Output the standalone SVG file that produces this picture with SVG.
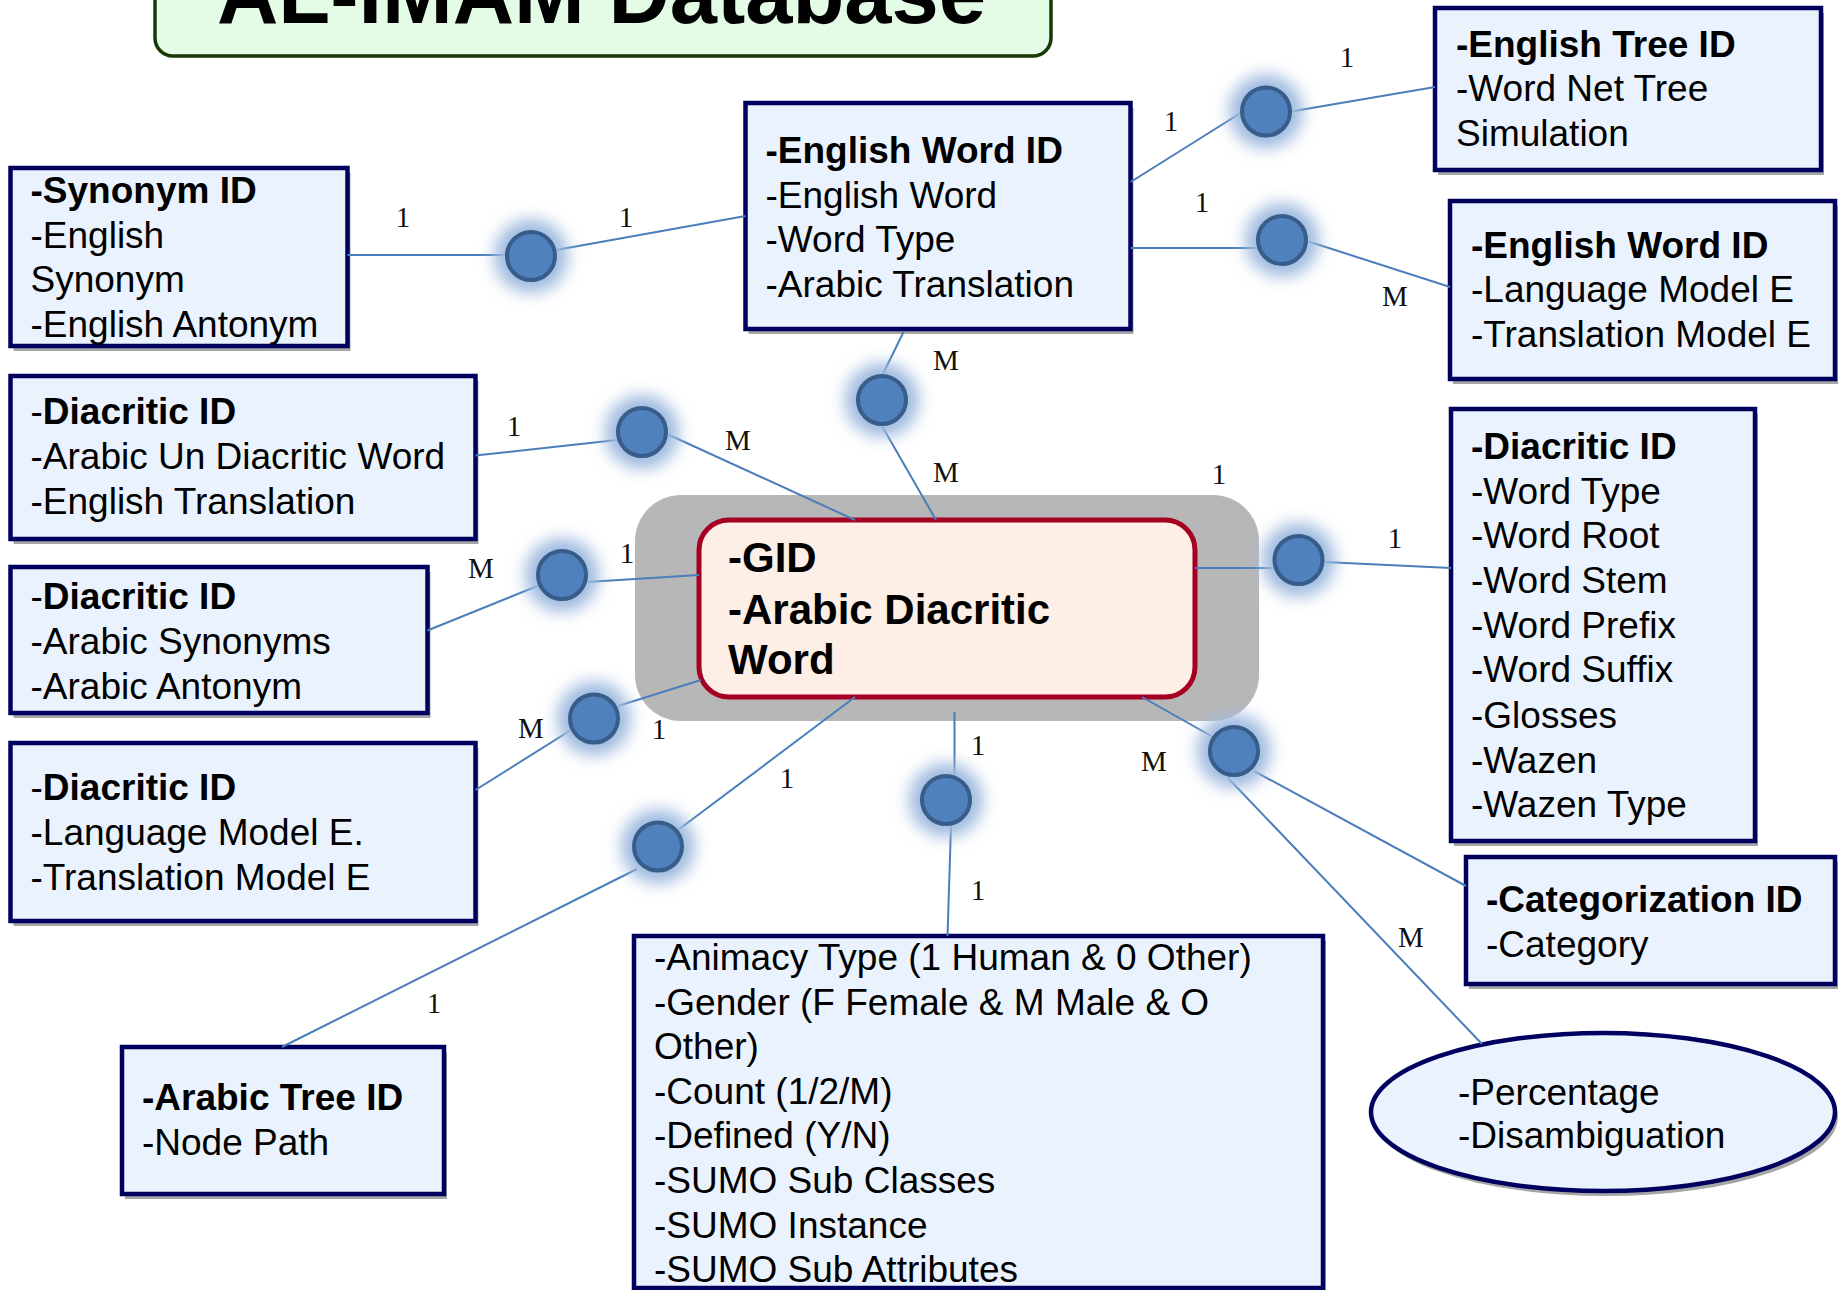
<svg xmlns="http://www.w3.org/2000/svg" width="1841" height="1290" viewBox="0 0 1841 1290">
  <defs>
    <style>
      .bg{fill:#ffffff}
      .shadow{fill:#a6a6a6}
      .box{fill:#eaf3fd;stroke:#00005e;stroke-width:4.5}
      .t{font-family:"Liberation Sans",Arial,Helvetica,sans-serif;font-size:37px;fill:#000}
      .b{font-weight:bold}
      .ct{font-family:"Liberation Sans",Arial,Helvetica,sans-serif;font-size:42px;font-weight:bold;fill:#000}
      .lbl{font-family:"Liberation Serif","Times New Roman",serif;font-size:29px;fill:#111;text-anchor:middle}
      .wire{stroke:#4a7ebb;stroke-width:2;fill:none}
      .halo{fill:#9fbadf}
      .dot{fill:#4f81bd;stroke:#385d8a;stroke-width:4}
    </style>
    <filter id="glow" x="-60%" y="-60%" width="220%" height="220%">
      <feGaussianBlur stdDeviation="8"/>
    </filter>
  </defs>

  <rect class="bg" x="0" y="0" width="1841" height="1290"/>

  <!-- title banner -->
  <g id="title">
    <rect x="155" y="-40" width="896" height="96" rx="18" fill="#e4fbe5" stroke="#163a06" stroke-width="3.5"/>
    <text x="217" y="23" font-family="Liberation Sans, Arial, sans-serif" font-size="88" font-weight="bold" textLength="769" lengthAdjust="spacingAndGlyphs">AL-IMAM Database</text>
  </g>

  <!-- central entity -->
  <g id="gid">
    <rect x="635" y="495" width="624" height="226" rx="46" fill="#b7b7b7"/>
    <rect x="699" y="520" width="496" height="177" rx="30" fill="#fdefe5" stroke="#a50021" stroke-width="5"/>
    <text class="ct" x="728" y="572">-GID</text>
    <text class="ct" x="728" y="624">-Arabic Diacritic</text>
    <text class="ct" x="728" y="674">Word</text>
  </g>

  <g id="synonym">
    <rect class="shadow" x="13.5" y="173" width="337" height="178"/>
    <rect class="box" x="10.5" y="168" width="337" height="178"/>
    <text class="t b" x="30.5" y="203">-Synonym ID</text>
    <text class="t" x="30.5" y="248">-English</text>
    <text class="t" x="30.5" y="292">Synonym</text>
    <text class="t" x="30.5" y="337">-English Antonym</text>
  </g>

  <g id="diacritic-translation">
    <rect class="shadow" x="13.5" y="381" width="465" height="163"/>
    <rect class="box" x="10.5" y="376" width="465" height="163"/>
    <text class="t" x="30.5" y="424">-<tspan class="b">Diacritic ID</tspan></text>
    <text class="t" x="30.5" y="469">-Arabic Un Diacritic Word</text>
    <text class="t" x="30.5" y="514">-English Translation</text>
  </g>

  <g id="diacritic-synonyms">
    <rect class="shadow" x="13.5" y="572" width="417" height="146"/>
    <rect class="box" x="10.5" y="567" width="417" height="146"/>
    <text class="t" x="30.5" y="609">-<tspan class="b">Diacritic ID</tspan></text>
    <text class="t" x="30.5" y="654">-Arabic Synonyms</text>
    <text class="t" x="30.5" y="699">-Arabic Antonym</text>
  </g>

  <g id="diacritic-models">
    <rect class="shadow" x="13.5" y="748" width="465" height="178"/>
    <rect class="box" x="10.5" y="743" width="465" height="178"/>
    <text class="t" x="30.5" y="800">-<tspan class="b">Diacritic ID</tspan></text>
    <text class="t" x="30.5" y="845">-Language Model E.</text>
    <text class="t" x="30.5" y="890">-Translation Model E</text>
  </g>

  <g id="arabic-tree">
    <rect class="shadow" x="125" y="1052" width="322" height="147"/>
    <rect class="box" x="122" y="1047" width="322" height="147"/>
    <text class="t b" x="142" y="1110">-Arabic Tree ID</text>
    <text class="t" x="142" y="1155">-Node Path</text>
  </g>

  <g id="english-word">
    <rect class="shadow" x="748.5" y="108" width="385" height="226"/>
    <rect class="box" x="745.5" y="103" width="385" height="226"/>
    <text class="t b" x="765.5" y="163">-English Word ID</text>
    <text class="t" x="765.5" y="208">-English Word</text>
    <text class="t" x="765.5" y="252">-Word Type</text>
    <text class="t" x="765.5" y="297">-Arabic Translation</text>
  </g>

  <g id="english-tree">
    <rect class="shadow" x="1438" y="13" width="386" height="162"/>
    <rect class="box" x="1435" y="8" width="386" height="162"/>
    <text class="t b" x="1456" y="57">-English Tree ID</text>
    <text class="t" x="1456" y="101">-Word Net Tree</text>
    <text class="t" x="1456" y="146">Simulation</text>
  </g>

  <g id="english-models">
    <rect class="shadow" x="1453" y="206" width="385" height="178"/>
    <rect class="box" x="1450" y="201" width="385" height="178"/>
    <text class="t b" x="1471" y="258">-English Word ID</text>
    <text class="t" x="1471" y="302">-Language Model E</text>
    <text class="t" x="1471" y="347">-Translation Model E</text>
  </g>

  <g id="diacritic-morphology">
    <rect class="shadow" x="1454" y="414" width="304" height="432"/>
    <rect class="box" x="1451" y="409" width="304" height="432"/>
    <text class="t b" x="1471" y="459">-Diacritic ID</text>
    <text class="t" x="1471" y="504">-Word Type</text>
    <text class="t" x="1471" y="548">-Word Root</text>
    <text class="t" x="1471" y="593">-Word Stem</text>
    <text class="t" x="1471" y="638">-Word Prefix</text>
    <text class="t" x="1471" y="682">-Word Suffix</text>
    <text class="t" x="1471" y="728">-Glosses</text>
    <text class="t" x="1471" y="773">-Wazen</text>
    <text class="t" x="1471" y="817">-Wazen Type</text>
  </g>

  <g id="categorization">
    <rect class="shadow" x="1469" y="862" width="369" height="127"/>
    <rect class="box" x="1466" y="857" width="369" height="127"/>
    <text class="t b" x="1486" y="912">-Categorization ID</text>
    <text class="t" x="1486" y="957">-Category</text>
  </g>

  <g id="disambiguation">
    <ellipse class="shadow" cx="1606" cy="1117" rx="232" ry="79"/>
    <ellipse class="box" cx="1603" cy="1112" rx="232" ry="79"/>
    <text class="t" x="1458" y="1105">-Percentage</text>
    <text class="t" x="1458" y="1148">-Disambiguation</text>
  </g>

  <g id="semantic-attributes">
    <rect class="shadow" x="637" y="941" width="689" height="352"/>
    <rect class="box" x="634" y="936" width="689" height="352"/>
    <text class="t" x="654" y="970">-Animacy Type (1 Human &amp; 0 Other)</text>
    <text class="t" x="654" y="1015">-Gender (F Female &amp; M Male &amp; O</text>
    <text class="t" x="654" y="1059">Other)</text>
    <text class="t" x="654" y="1104">-Count (1/2/M)</text>
    <text class="t" x="654" y="1148">-Defined (Y/N)</text>
    <text class="t" x="654" y="1193">-SUMO Sub Classes</text>
    <text class="t" x="654" y="1238">-SUMO Instance</text>
    <text class="t" x="654" y="1282">-SUMO Sub Attributes</text>
  </g>

  <!-- relationship lines with cardinality labels -->
  <g id="connectors">
    <line class="wire" x1="347.5" y1="255" x2="505" y2="255"/>
    <line class="wire" x1="556" y1="250" x2="745.5" y2="216"/>
    <line class="wire" x1="1130.6" y1="182" x2="1243" y2="111.5"/>
    <line class="wire" x1="1291" y1="111.5" x2="1435" y2="87"/>
    <line class="wire" x1="1130.6" y1="248" x2="1257" y2="248"/>
    <line class="wire" x1="1307" y1="241" x2="1450" y2="287"/>
    <line class="wire" x1="904" y1="331" x2="882" y2="376"/>
    <line class="wire" x1="882" y1="426" x2="936" y2="520"/>
    <line class="wire" x1="475.5" y1="455.5" x2="617" y2="440"/>
    <line class="wire" x1="667" y1="434" x2="855" y2="520"/>
    <line class="wire" x1="427.4" y1="630.5" x2="540" y2="585"/>
    <line class="wire" x1="587" y1="582" x2="699" y2="575"/>
    <line class="wire" x1="1195" y1="568" x2="1273" y2="568"/>
    <line class="wire" x1="1324" y1="562" x2="1451" y2="568"/>
    <line class="wire" x1="475.5" y1="790" x2="571" y2="730"/>
    <line class="wire" x1="618" y1="706" x2="701" y2="680"/>
    <line class="wire" x1="855" y1="697" x2="678" y2="830"/>
    <line class="wire" x1="637" y1="869" x2="282" y2="1047"/>
    <line class="wire" x1="954.5" y1="712" x2="954.5" y2="775"/>
    <line class="wire" x1="951" y1="826" x2="947.5" y2="936"/>
    <line class="wire" x1="1142" y1="697" x2="1213" y2="737"/>
    <line class="wire" x1="1254" y1="771" x2="1466" y2="886"/>
    <line class="wire" x1="1228" y1="778" x2="1482" y2="1044"/>

    <text class="lbl" x="403" y="227">1</text>
    <text class="lbl" x="626" y="227">1</text>
    <text class="lbl" x="1171" y="131">1</text>
    <text class="lbl" x="1347" y="67">1</text>
    <text class="lbl" x="1202" y="212">1</text>
    <text class="lbl" x="1395" y="306">M</text>
    <text class="lbl" x="946" y="370">M</text>
    <text class="lbl" x="946" y="482">M</text>
    <text class="lbl" x="514" y="436">1</text>
    <text class="lbl" x="738" y="450">M</text>
    <text class="lbl" x="481" y="578">M</text>
    <text class="lbl" x="627" y="563">1</text>
    <text class="lbl" x="1219" y="484">1</text>
    <text class="lbl" x="1395" y="548">1</text>
    <text class="lbl" x="531" y="738">M</text>
    <text class="lbl" x="659" y="739">1</text>
    <text class="lbl" x="787" y="788">1</text>
    <text class="lbl" x="434" y="1013">1</text>
    <text class="lbl" x="978" y="755">1</text>
    <text class="lbl" x="978" y="900">1</text>
    <text class="lbl" x="1154" y="771">M</text>
    <text class="lbl" x="1411" y="947">M</text>
  </g>

  <!-- relationship points drawn as glowing dots -->
  <g id="rel-synonym"><circle class="halo" cx="531" cy="256" r="37" filter="url(#glow)"/><circle class="dot" cx="531" cy="256" r="24"/></g>
  <g id="rel-english-tree"><circle class="halo" cx="1266" cy="111.5" r="37" filter="url(#glow)"/><circle class="dot" cx="1266" cy="111.5" r="24"/></g>
  <g id="rel-english-models"><circle class="halo" cx="1282" cy="240" r="37" filter="url(#glow)"/><circle class="dot" cx="1282" cy="240" r="24"/></g>
  <g id="rel-english-word"><circle class="halo" cx="882" cy="400" r="37" filter="url(#glow)"/><circle class="dot" cx="882" cy="400" r="24"/></g>
  <g id="rel-translation"><circle class="halo" cx="642" cy="432" r="37" filter="url(#glow)"/><circle class="dot" cx="642" cy="432" r="24"/></g>
  <g id="rel-arabic-synonyms"><circle class="halo" cx="562" cy="575" r="37" filter="url(#glow)"/><circle class="dot" cx="562" cy="575" r="24"/></g>
  <g id="rel-morphology"><circle class="halo" cx="1298.5" cy="560" r="37" filter="url(#glow)"/><circle class="dot" cx="1298.5" cy="560" r="24"/></g>
  <g id="rel-models"><circle class="halo" cx="594" cy="718.5" r="37" filter="url(#glow)"/><circle class="dot" cx="594" cy="718.5" r="24"/></g>
  <g id="rel-category"><circle class="halo" cx="1234" cy="751" r="37" filter="url(#glow)"/><circle class="dot" cx="1234" cy="751" r="24"/></g>
  <g id="rel-attributes"><circle class="halo" cx="946" cy="800" r="37" filter="url(#glow)"/><circle class="dot" cx="946" cy="800" r="24"/></g>
  <g id="rel-arabic-tree"><circle class="halo" cx="658" cy="846.5" r="37" filter="url(#glow)"/><circle class="dot" cx="658" cy="846.5" r="24"/></g>
</svg>
